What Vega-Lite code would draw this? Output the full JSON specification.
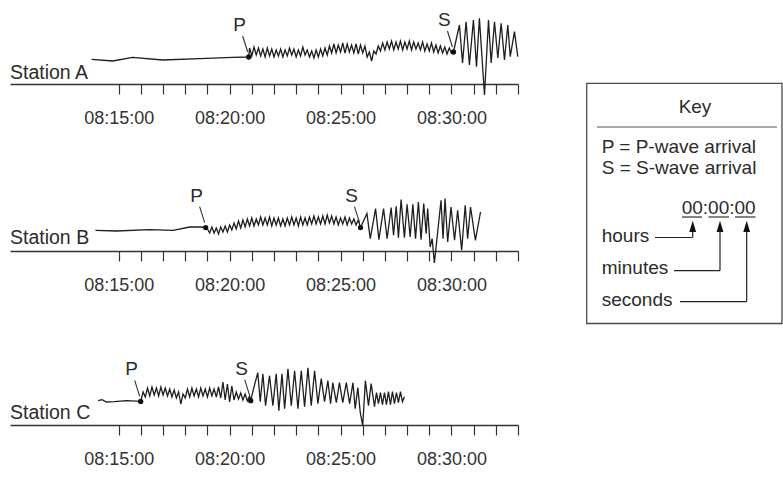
{
  "$schema": "https://vega.github.io/schema/vega-lite/v6.json",
  "padding": {"left": 10, "top": 5, "right": 0, "bottom": 5},
  "config": {"view": {"stroke": null}, "font": "Liberation Sans", "text": {"font": "Liberation Sans", "color": "#2b2b2b"}, "axisX": {"labelOverlap": false, "labelFlush": false}},
  "datasets": {
    "stationA": [
      {"t":13.78,"amp":24.7},{"t":14.73,"amp":23},{"t":15.63,"amp":26.7},{"t":16.98,"amp":24},{"t":18.65,"amp":25.3},{"t":20.14,"amp":26.7},{"t":20.86,"amp":27},
      {"t":20.9,"amp":36},{"t":21.0,"amp":28},{"t":21.1,"amp":37},{"t":21.2,"amp":29},{"t":21.3,"amp":36},{"t":21.4,"amp":28},{"t":21.5,"amp":35},{"t":21.6,"amp":27},{"t":21.7,"amp":36},{"t":21.8,"amp":28},{"t":21.9,"amp":35},{"t":22.0,"amp":27},
      {"t":22.1,"amp":34},{"t":22.2,"amp":28},{"t":22.3,"amp":35},{"t":22.4,"amp":27},{"t":22.5,"amp":34},{"t":22.6,"amp":28},{"t":22.7,"amp":36},{"t":22.8,"amp":29},{"t":22.9,"amp":35},{"t":23.0,"amp":27},
      {"t":23.1,"amp":34},{"t":23.2,"amp":28},{"t":23.3,"amp":37},{"t":23.4,"amp":29},{"t":23.5,"amp":34},{"t":23.6,"amp":27},{"t":23.7,"amp":33},{"t":23.8,"amp":26},{"t":23.9,"amp":34},{"t":24.0,"amp":27},
      {"t":24.1,"amp":35},{"t":24.2,"amp":28},{"t":24.3,"amp":36},{"t":24.4,"amp":29},{"t":24.5,"amp":38},{"t":24.6,"amp":31},{"t":24.7,"amp":40},{"t":24.8,"amp":31},{"t":24.9,"amp":39},{"t":25.0,"amp":32},
      {"t":25.1,"amp":41},{"t":25.2,"amp":31},{"t":25.3,"amp":40},{"t":25.4,"amp":32},{"t":25.5,"amp":39},{"t":25.6,"amp":31},{"t":25.7,"amp":40},{"t":25.8,"amp":30},{"t":25.9,"amp":39},{"t":26.0,"amp":31},
      {"t":26.1,"amp":38},{"t":26.2,"amp":27},{"t":26.3,"amp":32},{"t":26.4,"amp":23},{"t":26.5,"amp":33},{"t":26.6,"amp":30},{"t":26.7,"amp":38},{"t":26.8,"amp":33},{"t":26.9,"amp":41},{"t":27.0,"amp":34},
      {"t":27.1,"amp":42},{"t":27.2,"amp":35},{"t":27.3,"amp":43},{"t":27.4,"amp":34},{"t":27.5,"amp":42},{"t":27.6,"amp":35},{"t":27.7,"amp":43},{"t":27.8,"amp":34},{"t":27.9,"amp":42},{"t":28.0,"amp":35},
      {"t":28.1,"amp":43},{"t":28.2,"amp":34},{"t":28.3,"amp":42},{"t":28.4,"amp":35},{"t":28.5,"amp":41},{"t":28.6,"amp":34},{"t":28.7,"amp":42},{"t":28.8,"amp":33},{"t":28.9,"amp":40},{"t":29.0,"amp":33},
      {"t":29.1,"amp":41},{"t":29.2,"amp":32},{"t":29.3,"amp":39},{"t":29.4,"amp":31},{"t":29.5,"amp":38},{"t":29.6,"amp":31},{"t":29.7,"amp":37},{"t":29.8,"amp":30},{"t":29.9,"amp":36},{"t":30.0,"amp":31},
      {"t":30.09,"amp":32},
      {"t":30.36,"amp":59},{"t":30.5,"amp":21},{"t":30.66,"amp":62.3},{"t":30.81,"amp":19},{"t":30.99,"amp":64},{"t":31.13,"amp":17.3},{"t":31.26,"amp":65.7},{"t":31.49,"amp":-11},{"t":31.67,"amp":64},{"t":31.79,"amp":21},
      {"t":31.94,"amp":62.3},{"t":32.09,"amp":26},{"t":32.24,"amp":60.7},{"t":32.39,"amp":24},{"t":32.54,"amp":59},{"t":32.65,"amp":27.3},{"t":32.84,"amp":52.3},{"t":32.99,"amp":27.3}
    ],
    "stationB": [
      {"t":13.95,"amp":20.7},{"t":14.9,"amp":20},{"t":16.4,"amp":21.4},{"t":17.45,"amp":20.7},{"t":18.2,"amp":24},{"t":18.73,"amp":24},{"t":18.92,"amp":23.4},
      {"t":19.0,"amp":22},{"t":19.1,"amp":18},{"t":19.2,"amp":24},{"t":19.3,"amp":18},{"t":19.4,"amp":23},{"t":19.5,"amp":17},{"t":19.6,"amp":24},{"t":19.7,"amp":19},{"t":19.8,"amp":25},{"t":19.9,"amp":19},
      {"t":20.0,"amp":26},{"t":20.1,"amp":21},{"t":20.2,"amp":28},{"t":20.3,"amp":22},{"t":20.4,"amp":30},{"t":20.5,"amp":23},{"t":20.6,"amp":31},{"t":20.7,"amp":24},{"t":20.8,"amp":32},{"t":20.9,"amp":25},
      {"t":21.0,"amp":33},{"t":21.1,"amp":25},{"t":21.2,"amp":32},{"t":21.3,"amp":26},{"t":21.4,"amp":34},{"t":21.5,"amp":26},{"t":21.6,"amp":33},{"t":21.7,"amp":26},{"t":21.8,"amp":34},{"t":21.9,"amp":25},
      {"t":22.0,"amp":33},{"t":22.1,"amp":26},{"t":22.2,"amp":33},{"t":22.3,"amp":25},{"t":22.4,"amp":32},{"t":22.5,"amp":25},{"t":22.6,"amp":33},{"t":22.7,"amp":26},{"t":22.8,"amp":34},{"t":22.9,"amp":26},
      {"t":23.0,"amp":33},{"t":23.1,"amp":25},{"t":23.2,"amp":34},{"t":23.3,"amp":26},{"t":23.4,"amp":33},{"t":23.5,"amp":26},{"t":23.6,"amp":34},{"t":23.7,"amp":27},{"t":23.8,"amp":35},{"t":23.9,"amp":27},
      {"t":24.0,"amp":34},{"t":24.1,"amp":27},{"t":24.2,"amp":35},{"t":24.3,"amp":27},{"t":24.4,"amp":36},{"t":24.5,"amp":28},{"t":24.6,"amp":35},{"t":24.7,"amp":27},{"t":24.8,"amp":34},{"t":24.9,"amp":26},
      {"t":25.0,"amp":33},{"t":25.1,"amp":27},{"t":25.2,"amp":34},{"t":25.3,"amp":26},{"t":25.4,"amp":33},{"t":25.5,"amp":27},{"t":25.6,"amp":32},{"t":25.7,"amp":26},{"t":25.8,"amp":31},
      {"t":25.9,"amp":23.4},
      {"t":26.19,"amp":37.4},{"t":26.34,"amp":12.4},{"t":26.58,"amp":42.4},{"t":26.73,"amp":11.4},{"t":26.94,"amp":42.4},{"t":27.1,"amp":12.4},{"t":27.28,"amp":43.4},{"t":27.39,"amp":15.7},{"t":27.51,"amp":44.7},{"t":27.61,"amp":13.4},
      {"t":27.73,"amp":51.4},{"t":27.88,"amp":13.4},{"t":28.0,"amp":46.7},{"t":28.14,"amp":14},{"t":28.26,"amp":46.7},{"t":28.38,"amp":12.4},{"t":28.51,"amp":49},{"t":28.63,"amp":11.4},{"t":28.75,"amp":47.4},{"t":28.86,"amp":17.4},
      {"t":28.93,"amp":42.4},{"t":29.04,"amp":4},{"t":29.13,"amp":12.4},{"t":29.23,"amp":-12},{"t":29.34,"amp":10.7},{"t":29.53,"amp":50.7},{"t":29.62,"amp":12.4},{"t":29.71,"amp":52.4},{"t":29.83,"amp":9},{"t":29.98,"amp":44},
      {"t":30.14,"amp":10.7},{"t":30.28,"amp":40.7},{"t":30.46,"amp":0.7},{"t":30.62,"amp":45.7},{"t":30.73,"amp":12.4},{"t":30.86,"amp":44},{"t":31.08,"amp":10.7},{"t":31.31,"amp":39}
    ],
    "stationC": [
      {"t":14.07,"amp":24.3},{"t":14.25,"amp":25.3},{"t":14.45,"amp":23},{"t":14.8,"amp":23.3},{"t":15.35,"amp":24.3},{"t":15.99,"amp":23.6},
      {"t":16.1,"amp":33},{"t":16.2,"amp":28},{"t":16.3,"amp":37},{"t":16.4,"amp":29},{"t":16.5,"amp":38},{"t":16.6,"amp":30},{"t":16.7,"amp":37},{"t":16.8,"amp":29},{"t":16.9,"amp":38},{"t":17.0,"amp":30},
      {"t":17.1,"amp":37},{"t":17.2,"amp":29},{"t":17.3,"amp":36},{"t":17.4,"amp":28},{"t":17.5,"amp":35},{"t":17.6,"amp":27},{"t":17.7,"amp":33},{"t":17.8,"amp":21},{"t":17.9,"amp":31},{"t":18.0,"amp":27},
      {"t":18.1,"amp":36},{"t":18.2,"amp":28},{"t":18.3,"amp":37},{"t":18.4,"amp":29},{"t":18.5,"amp":36},{"t":18.6,"amp":28},{"t":18.7,"amp":37},{"t":18.8,"amp":29},{"t":18.9,"amp":36},{"t":19.0,"amp":28},
      {"t":19.1,"amp":37},{"t":19.2,"amp":29},{"t":19.3,"amp":36},{"t":19.4,"amp":28},{"t":19.5,"amp":38},{"t":19.6,"amp":27},{"t":19.7,"amp":43},{"t":19.8,"amp":25},{"t":19.9,"amp":41},{"t":20.0,"amp":23},
      {"t":20.1,"amp":39},{"t":20.2,"amp":25},{"t":20.3,"amp":33},{"t":20.4,"amp":26},{"t":20.5,"amp":32},{"t":20.6,"amp":25},{"t":20.7,"amp":31},{"t":20.8,"amp":24},{"t":20.9,"amp":29},
      {"t":20.95,"amp":24.3},
      {"t":21.08,"amp":36.3},{"t":21.27,"amp":52.3},{"t":21.38,"amp":23.3},{"t":21.5,"amp":51.3},{"t":21.62,"amp":19.3},{"t":21.8,"amp":49.3},{"t":21.95,"amp":19.3},{"t":22.1,"amp":51.3},{"t":22.22,"amp":14.3},{"t":22.36,"amp":51.3},
      {"t":22.48,"amp":16.3},{"t":22.63,"amp":56.3},{"t":22.78,"amp":19.3},{"t":22.93,"amp":54.3},{"t":23.08,"amp":16.3},{"t":23.23,"amp":54.3},{"t":23.38,"amp":18.3},{"t":23.53,"amp":57.3},{"t":23.68,"amp":19.3},{"t":23.83,"amp":54.3},
      {"t":23.98,"amp":21.3},{"t":24.13,"amp":46.3},{"t":24.28,"amp":23.3},{"t":24.43,"amp":44.3},{"t":24.55,"amp":21.3},{"t":24.65,"amp":42.3},{"t":24.81,"amp":22.3},{"t":24.95,"amp":42.3},{"t":25.1,"amp":22.3},{"t":25.26,"amp":42.3},
      {"t":25.41,"amp":21.3},{"t":25.56,"amp":42.3},{"t":25.66,"amp":16.3},{"t":25.78,"amp":37.3},{"t":25.89,"amp":12.3},{"t":26.0,"amp":-0.7},{"t":26.12,"amp":44.3},{"t":26.26,"amp":19.3},{"t":26.38,"amp":41.3},{"t":26.53,"amp":18.3},
      {"t":26.62,"amp":32.3},{"t":26.71,"amp":21.3},{"t":26.8,"amp":32.3},{"t":26.89,"amp":20.3},{"t":26.98,"amp":32.3},{"t":27.07,"amp":20.3},{"t":27.16,"amp":33.3},{"t":27.25,"amp":20.3},{"t":27.34,"amp":33.3},{"t":27.43,"amp":21.3},
      {"t":27.52,"amp":32.3},{"t":27.61,"amp":22.3},{"t":27.7,"amp":33.3},{"t":27.79,"amp":23.3},{"t":27.88,"amp":28.3}
    ],
    "arrivals": [
      {"station":"A","phase":"P","t":20.86,"amp":27},
      {"station":"A","phase":"S","t":30.09,"amp":32},
      {"station":"B","phase":"P","t":18.92,"amp":23.4},
      {"station":"B","phase":"S","t":25.9,"amp":23.4},
      {"station":"C","phase":"P","t":15.99,"amp":23.6},
      {"station":"C","phase":"S","t":20.95,"amp":24.3}
    ]
  },
  "hconcat": [
    {
      "vconcat": [
        {
          "width": 508, "height": 79,
          "layer": [
            {"data": {"name": "stationA"}, "mark": {"type": "line", "color": "#1e1e1e", "strokeWidth": 1.3},
             "encoding": {
               "x": {"field": "t", "type": "quantitative", "scale": {"domain": [10.1, 33], "nice": false, "zero": false}, "axis": {"values": [15,16,17,18,19,20,21,22,23,24,25,26,27,28,29,30,31,32,33], "labelExpr": "datum.value % 5 === 0 ? '08:' + datum.value + ':00' : ''", "tickSize": 10, "tickColor": "#333", "tickWidth": 1.2, "domainColor": "#333", "domainWidth": 1.4, "labelFontSize": 18, "labelColor": "#333", "labelPadding": 15, "labelOverlap": false, "labelFlush": false, "grid": false, "title": null}},
               "y": {"field": "amp", "type": "quantitative", "scale": {"domain": [0, 79], "nice": false, "zero": false}, "axis": null}}},
            {"data": {"name": "arrivals"}, "transform": [{"filter": "datum.station === 'A'"}],
             "mark": {"type": "rule", "color": "#333", "strokeWidth": 1.1, "xOffset": -6, "yOffset": -21, "x2Offset": -1, "y2Offset": -5},
             "encoding": {
               "x": {"field": "t", "type": "quantitative", "scale": {"domain": [10.1, 33], "nice": false, "zero": false}, "axis": {"values": [15,16,17,18,19,20,21,22,23,24,25,26,27,28,29,30,31,32,33], "labelExpr": "datum.value % 5 === 0 ? '08:' + datum.value + ':00' : ''", "tickSize": 10, "tickColor": "#333", "tickWidth": 1.2, "domainColor": "#333", "domainWidth": 1.4, "labelFontSize": 18, "labelColor": "#333", "labelPadding": 15, "labelOverlap": false, "labelFlush": false, "grid": false, "title": null}},
               "x2": {"field": "t"},
               "y": {"field": "amp", "type": "quantitative", "scale": {"domain": [0, 79], "nice": false, "zero": false}, "axis": null},
               "y2": {"field": "amp"}}},
            {"data": {"name": "arrivals"}, "transform": [{"filter": "datum.station === 'A'"}],
             "mark": {"type": "point", "filled": true, "color": "#111", "size": 28, "opacity": 1},
             "encoding": {
               "x": {"field": "t", "type": "quantitative", "scale": {"domain": [10.1, 33], "nice": false, "zero": false}, "axis": {"values": [15,16,17,18,19,20,21,22,23,24,25,26,27,28,29,30,31,32,33], "labelExpr": "datum.value % 5 === 0 ? '08:' + datum.value + ':00' : ''", "tickSize": 10, "tickColor": "#333", "tickWidth": 1.2, "domainColor": "#333", "domainWidth": 1.4, "labelFontSize": 18, "labelColor": "#333", "labelPadding": 15, "labelOverlap": false, "labelFlush": false, "grid": false, "title": null}},
               "y": {"field": "amp", "type": "quantitative", "scale": {"domain": [0, 79], "nice": false, "zero": false}, "axis": null}}},
            {"data": {"name": "arrivals"}, "transform": [{"filter": "datum.station === 'A'"}],
             "mark": {"type": "text", "dx": -9, "dy": -32, "fontSize": 19, "baseline": "middle"},
             "encoding": {
               "x": {"field": "t", "type": "quantitative", "scale": {"domain": [10.1, 33], "nice": false, "zero": false}, "axis": {"values": [15,16,17,18,19,20,21,22,23,24,25,26,27,28,29,30,31,32,33], "labelExpr": "datum.value % 5 === 0 ? '08:' + datum.value + ':00' : ''", "tickSize": 10, "tickColor": "#333", "tickWidth": 1.2, "domainColor": "#333", "domainWidth": 1.4, "labelFontSize": 18, "labelColor": "#333", "labelPadding": 15, "labelOverlap": false, "labelFlush": false, "grid": false, "title": null}},
               "y": {"field": "amp", "type": "quantitative", "scale": {"domain": [0, 79], "nice": false, "zero": false}, "axis": null},
               "text": {"field": "phase"}}},
            {"data": {"values": [{}]},
             "mark": {"type": "text", "align": "left", "baseline": "alphabetic", "fontSize": 19.5},
             "encoding": {
               "x": {"datum": 10.1, "type": "quantitative", "scale": {"domain": [10.1, 33], "nice": false, "zero": false}, "axis": {"values": [15,16,17,18,19,20,21,22,23,24,25,26,27,28,29,30,31,32,33], "labelExpr": "datum.value % 5 === 0 ? '08:' + datum.value + ':00' : ''", "tickSize": 10, "tickColor": "#333", "tickWidth": 1.2, "domainColor": "#333", "domainWidth": 1.4, "labelFontSize": 18, "labelColor": "#333", "labelPadding": 15, "labelOverlap": false, "labelFlush": false, "grid": false, "title": null}},
               "y": {"datum": 5, "type": "quantitative", "scale": {"domain": [0, 79], "nice": false, "zero": false}, "axis": null},
               "text": {"value": "Station A"}}}
          ]
        },
        {
          "width": 508, "height": 87,
          "layer": [
            {"data": {"name": "stationB"}, "mark": {"type": "line", "color": "#1e1e1e", "strokeWidth": 1.3},
             "encoding": {
               "x": {"field": "t", "type": "quantitative", "scale": {"domain": [10.1, 33], "nice": false, "zero": false}, "axis": {"values": [15,16,17,18,19,20,21,22,23,24,25,26,27,28,29,30,31,32,33], "labelExpr": "datum.value % 5 === 0 ? '08:' + datum.value + ':00' : ''", "tickSize": 10, "tickColor": "#333", "tickWidth": 1.2, "domainColor": "#333", "domainWidth": 1.4, "labelFontSize": 18, "labelColor": "#333", "labelPadding": 15, "labelOverlap": false, "labelFlush": false, "grid": false, "title": null}},
               "y": {"field": "amp", "type": "quantitative", "scale": {"domain": [0, 87], "nice": false, "zero": false}, "axis": null}}},
            {"data": {"name": "arrivals"}, "transform": [{"filter": "datum.station === 'B'"}],
             "mark": {"type": "rule", "color": "#333", "strokeWidth": 1.1, "xOffset": -6, "yOffset": -21, "x2Offset": -1, "y2Offset": -5},
             "encoding": {
               "x": {"field": "t", "type": "quantitative", "scale": {"domain": [10.1, 33], "nice": false, "zero": false}, "axis": {"values": [15,16,17,18,19,20,21,22,23,24,25,26,27,28,29,30,31,32,33], "labelExpr": "datum.value % 5 === 0 ? '08:' + datum.value + ':00' : ''", "tickSize": 10, "tickColor": "#333", "tickWidth": 1.2, "domainColor": "#333", "domainWidth": 1.4, "labelFontSize": 18, "labelColor": "#333", "labelPadding": 15, "labelOverlap": false, "labelFlush": false, "grid": false, "title": null}},
               "x2": {"field": "t"},
               "y": {"field": "amp", "type": "quantitative", "scale": {"domain": [0, 87], "nice": false, "zero": false}, "axis": null},
               "y2": {"field": "amp"}}},
            {"data": {"name": "arrivals"}, "transform": [{"filter": "datum.station === 'B'"}],
             "mark": {"type": "point", "filled": true, "color": "#111", "size": 28, "opacity": 1},
             "encoding": {
               "x": {"field": "t", "type": "quantitative", "scale": {"domain": [10.1, 33], "nice": false, "zero": false}, "axis": {"values": [15,16,17,18,19,20,21,22,23,24,25,26,27,28,29,30,31,32,33], "labelExpr": "datum.value % 5 === 0 ? '08:' + datum.value + ':00' : ''", "tickSize": 10, "tickColor": "#333", "tickWidth": 1.2, "domainColor": "#333", "domainWidth": 1.4, "labelFontSize": 18, "labelColor": "#333", "labelPadding": 15, "labelOverlap": false, "labelFlush": false, "grid": false, "title": null}},
               "y": {"field": "amp", "type": "quantitative", "scale": {"domain": [0, 87], "nice": false, "zero": false}, "axis": null}}},
            {"data": {"name": "arrivals"}, "transform": [{"filter": "datum.station === 'B'"}],
             "mark": {"type": "text", "dx": -9, "dy": -32, "fontSize": 19, "baseline": "middle"},
             "encoding": {
               "x": {"field": "t", "type": "quantitative", "scale": {"domain": [10.1, 33], "nice": false, "zero": false}, "axis": {"values": [15,16,17,18,19,20,21,22,23,24,25,26,27,28,29,30,31,32,33], "labelExpr": "datum.value % 5 === 0 ? '08:' + datum.value + ':00' : ''", "tickSize": 10, "tickColor": "#333", "tickWidth": 1.2, "domainColor": "#333", "domainWidth": 1.4, "labelFontSize": 18, "labelColor": "#333", "labelPadding": 15, "labelOverlap": false, "labelFlush": false, "grid": false, "title": null}},
               "y": {"field": "amp", "type": "quantitative", "scale": {"domain": [0, 87], "nice": false, "zero": false}, "axis": null},
               "text": {"field": "phase"}}},
            {"data": {"values": [{}]},
             "mark": {"type": "text", "align": "left", "baseline": "alphabetic", "fontSize": 19.5},
             "encoding": {
               "x": {"datum": 10.1, "type": "quantitative", "scale": {"domain": [10.1, 33], "nice": false, "zero": false}, "axis": {"values": [15,16,17,18,19,20,21,22,23,24,25,26,27,28,29,30,31,32,33], "labelExpr": "datum.value % 5 === 0 ? '08:' + datum.value + ':00' : ''", "tickSize": 10, "tickColor": "#333", "tickWidth": 1.2, "domainColor": "#333", "domainWidth": 1.4, "labelFontSize": 18, "labelColor": "#333", "labelPadding": 15, "labelOverlap": false, "labelFlush": false, "grid": false, "title": null}},
               "y": {"datum": 7, "type": "quantitative", "scale": {"domain": [0, 87], "nice": false, "zero": false}, "axis": null},
               "text": {"value": "Station B"}}}
          ]
        },
        {
          "width": 508, "height": 94,
          "layer": [
            {"data": {"name": "stationC"}, "mark": {"type": "line", "color": "#1e1e1e", "strokeWidth": 1.3},
             "encoding": {
               "x": {"field": "t", "type": "quantitative", "scale": {"domain": [10.1, 33], "nice": false, "zero": false}, "axis": {"values": [15,16,17,18,19,20,21,22,23,24,25,26,27,28,29,30,31,32,33], "labelExpr": "datum.value % 5 === 0 ? '08:' + datum.value + ':00' : ''", "tickSize": 10, "tickColor": "#333", "tickWidth": 1.2, "domainColor": "#333", "domainWidth": 1.4, "labelFontSize": 18, "labelColor": "#333", "labelPadding": 15, "labelOverlap": false, "labelFlush": false, "grid": false, "title": null}},
               "y": {"field": "amp", "type": "quantitative", "scale": {"domain": [0, 94], "nice": false, "zero": false}, "axis": null}}},
            {"data": {"name": "arrivals"}, "transform": [{"filter": "datum.station === 'C'"}],
             "mark": {"type": "rule", "color": "#333", "strokeWidth": 1.1, "xOffset": -6, "yOffset": -21, "x2Offset": -1, "y2Offset": -5},
             "encoding": {
               "x": {"field": "t", "type": "quantitative", "scale": {"domain": [10.1, 33], "nice": false, "zero": false}, "axis": {"values": [15,16,17,18,19,20,21,22,23,24,25,26,27,28,29,30,31,32,33], "labelExpr": "datum.value % 5 === 0 ? '08:' + datum.value + ':00' : ''", "tickSize": 10, "tickColor": "#333", "tickWidth": 1.2, "domainColor": "#333", "domainWidth": 1.4, "labelFontSize": 18, "labelColor": "#333", "labelPadding": 15, "labelOverlap": false, "labelFlush": false, "grid": false, "title": null}},
               "x2": {"field": "t"},
               "y": {"field": "amp", "type": "quantitative", "scale": {"domain": [0, 94], "nice": false, "zero": false}, "axis": null},
               "y2": {"field": "amp"}}},
            {"data": {"name": "arrivals"}, "transform": [{"filter": "datum.station === 'C'"}],
             "mark": {"type": "point", "filled": true, "color": "#111", "size": 28, "opacity": 1},
             "encoding": {
               "x": {"field": "t", "type": "quantitative", "scale": {"domain": [10.1, 33], "nice": false, "zero": false}, "axis": {"values": [15,16,17,18,19,20,21,22,23,24,25,26,27,28,29,30,31,32,33], "labelExpr": "datum.value % 5 === 0 ? '08:' + datum.value + ':00' : ''", "tickSize": 10, "tickColor": "#333", "tickWidth": 1.2, "domainColor": "#333", "domainWidth": 1.4, "labelFontSize": 18, "labelColor": "#333", "labelPadding": 15, "labelOverlap": false, "labelFlush": false, "grid": false, "title": null}},
               "y": {"field": "amp", "type": "quantitative", "scale": {"domain": [0, 94], "nice": false, "zero": false}, "axis": null}}},
            {"data": {"name": "arrivals"}, "transform": [{"filter": "datum.station === 'C'"}],
             "mark": {"type": "text", "dx": -9, "dy": -32, "fontSize": 19, "baseline": "middle"},
             "encoding": {
               "x": {"field": "t", "type": "quantitative", "scale": {"domain": [10.1, 33], "nice": false, "zero": false}, "axis": {"values": [15,16,17,18,19,20,21,22,23,24,25,26,27,28,29,30,31,32,33], "labelExpr": "datum.value % 5 === 0 ? '08:' + datum.value + ':00' : ''", "tickSize": 10, "tickColor": "#333", "tickWidth": 1.2, "domainColor": "#333", "domainWidth": 1.4, "labelFontSize": 18, "labelColor": "#333", "labelPadding": 15, "labelOverlap": false, "labelFlush": false, "grid": false, "title": null}},
               "y": {"field": "amp", "type": "quantitative", "scale": {"domain": [0, 94], "nice": false, "zero": false}, "axis": null},
               "text": {"field": "phase"}}},
            {"data": {"values": [{}]},
             "mark": {"type": "text", "align": "left", "baseline": "alphabetic", "fontSize": 19.5},
             "encoding": {
               "x": {"datum": 10.1, "type": "quantitative", "scale": {"domain": [10.1, 33], "nice": false, "zero": false}, "axis": {"values": [15,16,17,18,19,20,21,22,23,24,25,26,27,28,29,30,31,32,33], "labelExpr": "datum.value % 5 === 0 ? '08:' + datum.value + ':00' : ''", "tickSize": 10, "tickColor": "#333", "tickWidth": 1.2, "domainColor": "#333", "domainWidth": 1.4, "labelFontSize": 18, "labelColor": "#333", "labelPadding": 15, "labelOverlap": false, "labelFlush": false, "grid": false, "title": null}},
               "y": {"datum": 6, "type": "quantitative", "scale": {"domain": [0, 94], "nice": false, "zero": false}, "axis": null},
               "text": {"value": "Station C"}}}
          ]
        }
      ],
      "spacing": 80,
      "bounds": "flush"
    },
    {
      "width": 197, "height": 319,
      "data": {"values": [{}]},
      "layer": [
        {"mark": {"type": "rect", "fill": "transparent", "stroke": "#4a4a4a", "strokeWidth": 1.3},
         "encoding": {"x": {"datum": 0.7, "type": "quantitative", "scale": {"domain": [0, 197], "nice": false, "zero": false}, "axis": null}, "x2": {"datum": 196},
                      "y": {"datum": 78.3, "type": "quantitative", "scale": {"domain": [0, 319], "nice": false, "zero": false, "reverse": true}, "axis": null}, "y2": {"datum": 318.5}}},
        {"mark": {"type": "rule", "color": "#555", "strokeWidth": 1.2},
         "encoding": {"x": {"datum": 11, "type": "quantitative", "axis": null}, "x2": {"datum": 191}, "y": {"datum": 122, "type": "quantitative", "axis": null}}},
        {"mark": {"type": "text", "align": "center", "baseline": "alphabetic", "fontSize": 19},
         "encoding": {"x": {"datum": 109, "type": "quantitative", "axis": null}, "y": {"datum": 108.3, "type": "quantitative", "axis": null}, "text": {"value": "Key"}}},
        {"mark": {"type": "text", "align": "left", "baseline": "alphabetic", "fontSize": 19},
         "encoding": {"x": {"datum": 15.7, "type": "quantitative", "axis": null}, "y": {"datum": 147.7, "type": "quantitative", "axis": null}, "text": {"value": "P = P-wave arrival"}}},
        {"mark": {"type": "text", "align": "left", "baseline": "alphabetic", "fontSize": 19},
         "encoding": {"x": {"datum": 15.7, "type": "quantitative", "axis": null}, "y": {"datum": 169, "type": "quantitative", "axis": null}, "text": {"value": "S = S-wave arrival"}}},
        {"mark": {"type": "text", "align": "left", "baseline": "alphabetic", "fontSize": 19},
         "encoding": {"x": {"datum": 95.7, "type": "quantitative", "axis": null}, "y": {"datum": 208.5, "type": "quantitative", "axis": null}, "text": {"value": "00:00:00"}}},
        {"mark": {"type": "rule", "color": "#333", "strokeWidth": 1.2},
         "encoding": {"x": {"datum": 96, "type": "quantitative", "axis": null}, "x2": {"datum": 116}, "y": {"datum": 212, "type": "quantitative", "axis": null}}},
        {"mark": {"type": "rule", "color": "#333", "strokeWidth": 1.2},
         "encoding": {"x": {"datum": 122.5, "type": "quantitative", "axis": null}, "x2": {"datum": 143}, "y": {"datum": 212, "type": "quantitative", "axis": null}}},
        {"mark": {"type": "rule", "color": "#333", "strokeWidth": 1.2},
         "encoding": {"x": {"datum": 149, "type": "quantitative", "axis": null}, "x2": {"datum": 169.5}, "y": {"datum": 212, "type": "quantitative", "axis": null}}},
        {"mark": {"type": "text", "align": "left", "baseline": "alphabetic", "fontSize": 19},
         "encoding": {"x": {"datum": 15.7, "type": "quantitative", "axis": null}, "y": {"datum": 236.7, "type": "quantitative", "axis": null}, "text": {"value": "hours"}}},
        {"mark": {"type": "text", "align": "left", "baseline": "alphabetic", "fontSize": 19},
         "encoding": {"x": {"datum": 15.7, "type": "quantitative", "axis": null}, "y": {"datum": 269, "type": "quantitative", "axis": null}, "text": {"value": "minutes"}}},
        {"mark": {"type": "text", "align": "left", "baseline": "alphabetic", "fontSize": 19},
         "encoding": {"x": {"datum": 15.7, "type": "quantitative", "axis": null}, "y": {"datum": 301, "type": "quantitative", "axis": null}, "text": {"value": "seconds"}}},
        {"mark": {"type": "rule", "color": "#222", "strokeWidth": 1.2},
         "encoding": {"x": {"datum": 69, "type": "quantitative", "axis": null}, "x2": {"datum": 106.7}, "y": {"datum": 232.5, "type": "quantitative", "axis": null}}},
        {"mark": {"type": "rule", "color": "#222", "strokeWidth": 1.2},
         "encoding": {"x": {"datum": 106.7, "type": "quantitative", "axis": null}, "y": {"datum": 232.5, "type": "quantitative", "axis": null}, "y2": {"datum": 222}}},
        {"mark": {"type": "rule", "color": "#222", "strokeWidth": 1.2},
         "encoding": {"x": {"datum": 88, "type": "quantitative", "axis": null}, "x2": {"datum": 134}, "y": {"datum": 265.7, "type": "quantitative", "axis": null}}},
        {"mark": {"type": "rule", "color": "#222", "strokeWidth": 1.2},
         "encoding": {"x": {"datum": 134, "type": "quantitative", "axis": null}, "y": {"datum": 265.7, "type": "quantitative", "axis": null}, "y2": {"datum": 222}}},
        {"mark": {"type": "rule", "color": "#222", "strokeWidth": 1.2},
         "encoding": {"x": {"datum": 94, "type": "quantitative", "axis": null}, "x2": {"datum": 160.7}, "y": {"datum": 296.7, "type": "quantitative", "axis": null}}},
        {"mark": {"type": "rule", "color": "#222", "strokeWidth": 1.2},
         "encoding": {"x": {"datum": 160.7, "type": "quantitative", "axis": null}, "y": {"datum": 296.7, "type": "quantitative", "axis": null}, "y2": {"datum": 222}}},
        {"mark": {"type": "point", "shape": "M0,-1L0.6,1L-0.6,1Z", "filled": true, "color": "#111", "size": 130, "opacity": 1},
         "encoding": {"x": {"datum": 106.7, "type": "quantitative", "axis": null}, "y": {"datum": 221.4, "type": "quantitative", "axis": null}}},
        {"mark": {"type": "point", "shape": "M0,-1L0.6,1L-0.6,1Z", "filled": true, "color": "#111", "size": 130, "opacity": 1},
         "encoding": {"x": {"datum": 134, "type": "quantitative", "axis": null}, "y": {"datum": 221.4, "type": "quantitative", "axis": null}}},
        {"mark": {"type": "point", "shape": "M0,-1L0.6,1L-0.6,1Z", "filled": true, "color": "#111", "size": 130, "opacity": 1},
         "encoding": {"x": {"datum": 160.7, "type": "quantitative", "axis": null}, "y": {"datum": 221.4, "type": "quantitative", "axis": null}}}
      ]
    }
  ],
  "spacing": 65,
  "bounds": "full"
}
